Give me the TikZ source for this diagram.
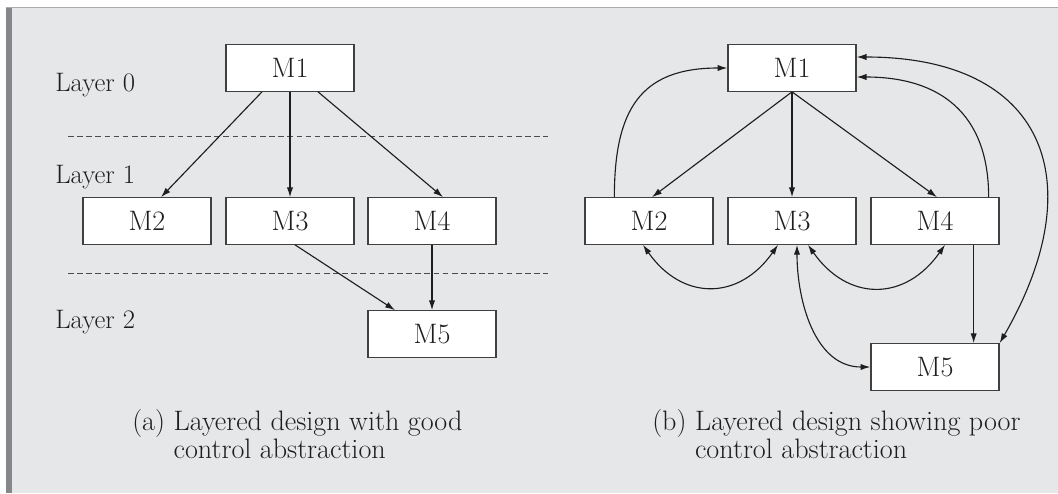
\documentclass[tikz,border=0pt]{standalone}
\usepackage{fontspec}
\usetikzlibrary{arrows.meta,calc}
\definecolor{panel}{HTML}{E6E7E9}
\definecolor{rim}{HTML}{86878A}
\definecolor{ink}{HTML}{1E1E1E}
\newcommand{\heavytext}{\addfontfeature{FakeBold=1.6}}
\begin{document}
\begin{tikzpicture}[x=0.025cm,y=-0.025cm,
        mod/.style={draw=ink!85,line width=0.9pt,fill=white,minimum width=3.2cm,minimum height=1.16cm,inner sep=0pt,font=\fontsize{20}{22}\selectfont\heavytext,text=ink},
        lbl/.style={anchor=base west,inner sep=0pt,font=\fontsize{19}{21}\selectfont\heavytext,text=ink},
        captxt/.style={anchor=base west,inner sep=0pt,font=\fontsize{20}{20.5}\selectfont\heavytext,text=ink},
        sep/.style={draw=ink!80,line width=0.7pt,dash pattern=on 4pt off 2.5pt},
        link/.style={draw=ink,line width=0.8pt,-{Latex[length=7pt,width=4.5pt]}},
        twoway/.style={draw=ink,line width=0.8pt,{Latex[length=7pt,width=4.5pt]}-{Latex[length=7pt,width=4.5pt]}}]

        \useasboundingbox (0,0) rectangle (1058,493);
        \fill[panel] (12,8) rectangle (1058,493);
        \fill[rim] (6,7) rectangle (12,493);
        \draw[rim!70,line width=1pt] (6,7.5) -- (1058,7.5);

        \node[lbl] (l0) at (55,91) {Layer 0};
        \node[lbl] (l1) at (55,183) {Layer 1};
        \node[lbl] (l2) at (55,328) {Layer 2};
        \draw[sep] (68,136) -- (548,136);
        \draw[sep] (68,273) -- (548,273);

        \node[mod] (a1) at (290,68) {M1};
        \node[mod] (a2) at (147,221) {M2};
        \node[mod] (a3) at (290,221) {M3};
        \node[mod] (a4) at (432,221) {M4};
        \node[mod] (a5) at (432,334) {M5};

        \draw[link] ($(a1.south)+(-28,0)$) -- ($(a2.north)+(14,0)$);
        \draw[link] (a1.south) -- (a3.north);
        \draw[link] ($(a1.south)+(28,0)$) -- ($(a4.north)+(11,0)$);
        \draw[link] ($(a3.south)+(5,0)$) -- ($(a5.north)+(-37,0)$);
        \draw[link] (a4.south) -- (a5.north);

        \node[mod] (b1) at (792,68) {M1};
        \node[mod] (b2) at (649,221) {M2};
        \node[mod] (b3) at (792,221) {M3};
        \node[mod] (b4) at (935,221) {M4};
        \node[mod] (b5) at (935,367) {M5};

        \draw[link] (b1.south) -- ($(b2.north)+(3,0)$);
        \draw[link] (b1.south) -- (b3.north);
        \draw[link] (b1.south) -- ($(b4.north)+(2,0)$);
        \draw[link] ($(b2.north west)+(30,0)$) to[out=90,in=180,looseness=1.3] (b1.west);
        \draw[link] ($(b4.north east)+(-11,0)$) to[out=90,in=0,looseness=1.2] ($(b1.east)+(0,9)$);
        \draw[twoway] ($(b1.east)+(0,-11)$) to[out=0,in=60,looseness=1.5] (b5.north east);
        \draw[twoway] ($(b2.south)+(-6,0)$) to[out=-55,in=-125,looseness=1.3] ($(b3.south)+(-14,0)$);
        \draw[twoway] ($(b3.south)+(16,0)$) to[out=-55,in=-125,looseness=1.3] ($(b4.south)+(10,0)$);
        \draw[twoway] ($(b3.south)+(5,0)$) to[out=-90,in=180] (b5.west);
        \draw[link] ($(b4.south east)+(-26,0)$) -- ($(b5.north east)+(-26,0)$);

        \node[captxt] (capa) at (132,430) {\begin{tabular}[t]{@{}l@{~}l@{}}(a) & Layered design with good\\ & control abstraction\end{tabular}};
        \node[captxt] (capb) at (652,430) {\begin{tabular}[t]{@{}l@{~}l@{}}(b) & Layered design showing poor\\ & control abstraction\end{tabular}};

\end{tikzpicture}
\end{document}
